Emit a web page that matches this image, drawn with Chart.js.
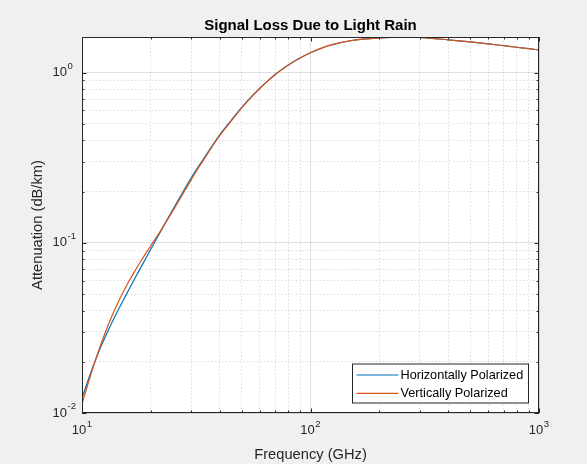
<!DOCTYPE html>
<html>
<head>
<meta charset="utf-8">
<script src="https://cdn.jsdelivr.net/npm/chart.js@4.4.1/dist/chart.umd.min.js"></script>
<style>
  html, body { margin: 0; padding: 0; background: #f0f0f0; }
  #divLluvia { width: 587px; height: 464px; }
</style>
</head>
<body>
<div id="divLluvia"><canvas id="graficaLluvia"></canvas></div>
<script>
// datos (GHz y dB/km)
const frecuencias = [10, 11, 12, 13, 14, 15, 16, 17, 18, 19, 20, 22, 24, 26, 28, 30, 32, 35, 38, 40,
  45, 50, 55, 60, 65, 70, 75, 80, 90, 100, 120, 150, 200, 250, 300, 400, 500, 600, 700, 800, 900, 1000]
const atenuacionH = [0.0122, 0.0177, 0.0239, 0.0304, 0.0374, 0.0448, 0.0528, 0.0615, 0.0708, 0.0808, 0.0916,
  0.1155, 0.1425, 0.1724, 0.2051, 0.2403, 0.2750, 0.3300, 0.3900, 0.4300,
  0.5250, 0.6250, 0.7200, 0.8100, 0.8950, 0.9750, 1.045, 1.110,
  1.220, 1.310, 1.440, 1.540, 1.600, 1.618, 1.610,
  1.560, 1.515, 1.475, 1.440, 1.410, 1.385, 1.360]
const atenuacionV = [0.0113, 0.0173, 0.0246, 0.0327, 0.0413, 0.0501, 0.0590, 0.0680, 0.0771, 0.0864, 0.0961,
  0.1170, 0.1410, 0.1685, 0.1995, 0.2335, 0.2700, 0.3250, 0.3855, 0.4255,
  0.5205, 0.6210, 0.7165, 0.8070, 0.8925, 0.9730, 1.043, 1.109,
  1.219, 1.310, 1.441, 1.541, 1.601, 1.619, 1.610,
  1.560, 1.515, 1.475, 1.440, 1.410, 1.385, 1.360]
const series = ['Horizontally Polarized', 'Vertically Polarized']

// ticks de los ejes
const ticksX = [10, 20, 30, 40, 50, 60, 70, 80, 90, 100, 200, 300, 400, 500, 600, 700, 800, 900, 1000]
const ticksY = [0.01, 0.02, 0.03, 0.04, 0.05, 0.06, 0.07, 0.08, 0.09,
  0.1, 0.2, 0.3, 0.4, 0.5, 0.6, 0.7, 0.8, 0.9, 1]
const decadasX = [10, 100, 1000]
const exponentesX = ['1', '2', '3']
const decadasY = [0.01, 0.1, 1]
const exponentesY = ['-2', '-1', '0']
const baseEtiqueta = '10'

const colores = ['#0072BD', '#D95319']
const fuente = '"Liberation Sans", Arial, Helvetica, sans-serif'
const colorEje = '#262626'

const indiceDecada = (lista, v) => lista.findIndex((d) => Math.abs(d - v) < d * 1e-6)
const esDecada = (lista, v) => indiceDecada(lista, v) >= 0

// fondo blanco, caja con ticks hacia dentro, exponentes y leyenda estilo matlab
const marcoMatlab = {
  id: 'marcoMatlab',
  beforeDraw(chart) {
    const { ctx, chartArea: a } = chart
    ctx.save()
    ctx.fillStyle = '#ffffff'
    ctx.fillRect(a.left, a.top, a.right - a.left, a.bottom - a.top)
    ctx.restore()
  },
  afterDraw(chart) {
    const { ctx, chartArea: a, scales } = chart
    ctx.save()
    ctx.strokeStyle = colorEje
    ctx.lineWidth = 1
    ctx.strokeRect(a.left + 0.5, a.top + 0.5, a.right - a.left - 1, a.bottom - a.top - 1)
    ctx.beginPath()
    ticksX.forEach((v) => {
      const x = Math.round(scales.x.getPixelForValue(v)) + 0.5
      const l = esDecada(decadasX, v) ? 4.5 : 2.5
      ctx.moveTo(x, a.bottom); ctx.lineTo(x, a.bottom - l)
      ctx.moveTo(x, a.top); ctx.lineTo(x, a.top + l)
    })
    ticksY.forEach((v) => {
      const y = Math.round(scales.y.getPixelForValue(v)) + 0.5
      const l = esDecada(decadasY, v) ? 4.5 : 2.5
      ctx.moveTo(a.left, y); ctx.lineTo(a.left + l, y)
      ctx.moveTo(a.right, y); ctx.lineTo(a.right - l, y)
    })
    ctx.stroke()

    // exponentes de las etiquetas 10^n
    ctx.fillStyle = colorEje
    ctx.font = '13px ' + fuente
    const anchoBase = ctx.measureText(baseEtiqueta).width
    ctx.font = '9.5px ' + fuente
    ctx.textAlign = 'left'
    ctx.textBaseline = 'middle'
    decadasX.forEach((d, i) => {
      const x = scales.x.getPixelForValue(d) - 3 + anchoBase / 2 + 0.5
      ctx.fillText(exponentesX[i], x, a.bottom + 10 + 7.8 - 6.5)
    })
    decadasY.forEach((d, i) => {
      const y = scales.y.getPixelForValue(d)
      ctx.fillText(exponentesY[i], a.left - 14.5, y - 6.5)
    })

    // leyenda
    const ancho = 176, alto = 39
    const x0 = a.right - 11 - ancho + 0.5
    const y0 = a.bottom - 10.5 - alto + 0.5
    ctx.fillStyle = '#ffffff'
    ctx.fillRect(x0, y0, ancho, alto)
    ctx.strokeRect(x0, y0, ancho, alto)
    ctx.font = '12.7px ' + fuente
    chart.data.datasets.forEach((ds, i) => {
      const y = y0 + 11 + i * 18.3
      ctx.strokeStyle = ds.borderColor
      ctx.lineWidth = 1.2
      ctx.beginPath()
      ctx.moveTo(x0 + 4, y); ctx.lineTo(x0 + 46, y)
      ctx.stroke()
      ctx.fillStyle = '#000000'
      ctx.fillText(ds.label, x0 + 48, y)
    })
    ctx.restore()
  }
}

function crearDataset(etiqueta, valores, color, orden) {
  return {
    label: etiqueta,
    data: frecuencias.map((f, i) => ({ x: f, y: valores[i] })),
    borderColor: color,
    backgroundColor: color,
    borderWidth: 1.2,
    pointRadius: 0,
    fill: false,
    order: orden,
    cubicInterpolationMode: 'monotone'
  }
}

function etiquetaDecada(lista, v) {
  return esDecada(lista, v) ? baseEtiqueta : ''
}

const $graficaLluvia = document.querySelector('#graficaLluvia')

new Chart($graficaLluvia, {
  type: 'line',
  data: {
    datasets: [
      crearDataset(series[0], atenuacionH, colores[0], 1),
      crearDataset(series[1], atenuacionV, colores[1], 0)
    ]
  },
  plugins: [marcoMatlab],
  options: {
    responsive: true,
    maintainAspectRatio: false,
    animation: false,
    layout: { padding: { left: 0, right: 48, top: 0, bottom: 0 } },
    plugins: {
      legend: { display: false },
      tooltip: { enabled: false },
      title: {
        display: true,
        fullSize: false,
        text: 'Signal Loss Due to Light Rain',
        color: '#000000',
        font: { family: fuente, size: 15, weight: 'bold' },
        padding: { top: 17, bottom: 2 }
      }
    },
    scales: {
      x: {
        type: 'logarithmic',
        min: 10,
        max: 1000,
        afterFit: (s) => { s.height = 51 },
        afterBuildTicks: (s) => { s.ticks = ticksX.map((v) => ({ value: v })) },
        ticks: {
          autoSkip: false,
          maxRotation: 0,
          padding: 10,
          labelOffset: -3,
          color: colorEje,
          font: { family: fuente, size: 13 },
          callback: (v) => etiquetaDecada(decadasX, v)
        },
        grid: {
          drawTicks: false,
          color: (c) => c.tick && esDecada(decadasX, c.tick.value) ? 'rgba(38,38,38,0.15)' : 'rgba(38,38,38,0.16)'
        },
        border: {
          display: false,
          dash: (c) => c.tick && !esDecada(decadasX, c.tick.value) ? [1.5, 2] : []
        },
        title: {
          display: true,
          text: 'Frequency (GHz)',
          color: colorEje,
          font: { family: fuente, size: 14.7 },
          padding: { top: 0, bottom: 0 }
        }
      },
      y: {
        type: 'logarithmic',
        min: 0.01,
        max: 1.62,
        afterFit: (s) => { s.width = 82 },
        afterBuildTicks: (s) => { s.ticks = ticksY.map((v) => ({ value: v })) },
        ticks: {
          autoSkip: false,
          padding: 15,
          color: colorEje,
          font: { family: fuente, size: 13 },
          callback: (v) => etiquetaDecada(decadasY, v)
        },
        grid: {
          drawTicks: false,
          color: (c) => c.tick && esDecada(decadasY, c.tick.value) ? 'rgba(38,38,38,0.15)' : 'rgba(38,38,38,0.16)'
        },
        border: {
          display: false,
          dash: (c) => c.tick && !esDecada(decadasY, c.tick.value) ? [1.5, 2] : []
        },
        title: {
          display: true,
          text: 'Attenuation (dB/km)',
          color: colorEje,
          font: { family: fuente, size: 14.7 },
          padding: { top: 29, bottom: 0 }
        }
      }
    }
  }
})
</script>
</body>
</html>
